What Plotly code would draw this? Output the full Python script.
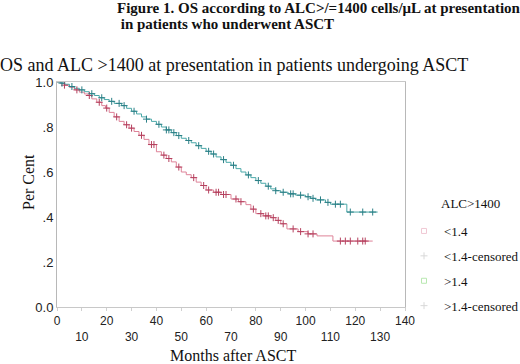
import numpy as np
import plotly.graph_objects as go

# Upper curve (ALC >1.4) Kaplan-Meier steps
hi_t = [0, 1.5, 3, 5, 7, 9, 11, 13, 15, 17, 19, 21, 23, 26, 28, 30, 32, 34, 36, 38, 40, 42, 44, 46,
        48, 50, 52, 54, 56, 58, 60, 62, 64, 66, 68, 70, 72, 74, 76, 78, 80, 82, 84, 86, 88, 90,
        93, 96, 100, 102, 104, 108, 110, 116.6, 129]
hi_s = [1.0, 0.995, 0.99, 0.98, 0.972, 0.965, 0.957, 0.948, 0.94, 0.93, 0.922, 0.914, 0.905, 0.895,
        0.883, 0.87, 0.858, 0.845, 0.835, 0.825, 0.812, 0.80, 0.787, 0.775, 0.762, 0.75, 0.74,
        0.73, 0.717, 0.705, 0.692, 0.68, 0.667, 0.655, 0.643, 0.63, 0.615, 0.60, 0.587, 0.575,
        0.562, 0.55, 0.537, 0.525, 0.517, 0.51, 0.503, 0.497, 0.49, 0.483, 0.476, 0.465, 0.457,
        0.422, 0.422]
hi_cens = [2, 6, 10, 14, 18, 22, 25, 27, 31, 36, 41, 44, 45, 47, 49, 53, 57, 61, 63, 67, 71, 77,
           81, 85, 88, 91, 94, 95, 98, 101, 103, 106, 109, 112, 114, 118, 123, 127]

# Lower curve (ALC <1.4) Kaplan-Meier steps
lo_t = [0, 1.5, 3, 5, 7, 9, 11, 12.5, 14, 16, 18, 19.5, 21, 23, 25, 27, 29, 31, 33, 35, 37, 40, 42,
        44, 46, 48, 50, 52, 54, 56, 58, 60, 63, 66, 70, 73, 76, 78, 80, 83, 86, 88, 90, 92.5,
        97, 101, 104.6, 111, 127]
lo_s = [1.0, 0.993, 0.986, 0.976, 0.965, 0.955, 0.947, 0.94, 0.925, 0.91, 0.895, 0.884, 0.865,
        0.845, 0.825, 0.81, 0.795, 0.78, 0.763, 0.745, 0.722, 0.69, 0.675, 0.66, 0.645, 0.622,
        0.60, 0.588, 0.575, 0.555, 0.54, 0.52, 0.51, 0.50, 0.48, 0.468, 0.455, 0.435, 0.415,
        0.405, 0.397, 0.385, 0.37, 0.347, 0.335, 0.325, 0.316, 0.293, 0.293]
lo_cens = [3, 8, 13, 17, 20, 24, 28, 30, 34, 38, 39, 43, 45, 49, 55, 59, 61, 64, 65, 67, 68, 72,
           74, 79, 82, 84, 85, 87, 89, 91, 95, 98, 101, 103, 114, 116, 118, 121, 123, 124]

x_ticks = [0, 10, 20, 30, 40, 50, 60, 70, 80, 90, 100, 110, 120, 130, 140]
x_ticktext = ["0", "<br>10", "20", "<br>30", "40", "<br>50", "60", "<br>70", "80", "<br>90",
              "100", "<br>110", "120", "<br>130", "140"]
y_ticks = [0.0, 0.2, 0.4, 0.6, 0.8, 1.0]
y_ticktext = ["0.0", ".2", ".4", ".6", ".8", "1.0"]

legend_title = "ALC>1400"
legend_names = ["<1.4", "<1.4-censored", ">1.4", ">1.4-censored"]

TEAL = "#4aa8a8"
TEAL_D = "#2b7f86"
PINK = "#de8298"
PINK_D = "#b5405e"


def step_lookup(times, surv, t):
    idx = np.searchsorted(np.array(times), np.array(t), side="right") - 1
    return list(np.array(surv)[idx])


fig = go.Figure()

fig.add_trace(go.Scatter(x=lo_t, y=lo_s, mode="lines", line=dict(color=PINK, width=1, shape="hv"),
                         showlegend=False, hoverinfo="skip"))
fig.add_trace(go.Scatter(x=hi_t, y=hi_s, mode="lines", line=dict(color=TEAL, width=1, shape="hv"),
                         showlegend=False, hoverinfo="skip"))
for cens, tt, ss, col in [(lo_cens, lo_t, lo_s, PINK_D), (hi_cens, hi_t, hi_s, TEAL_D)]:
    yy = step_lookup(tt, ss, cens)
    for sym in ["line-ns", "line-ew"]:
        fig.add_trace(go.Scatter(x=cens, y=yy, mode="markers",
                                 marker=dict(symbol=sym, size=5, line=dict(color=col, width=1)),
                                 showlegend=False, hoverinfo="skip"))

# legend entries
leg_markers = [
    dict(symbol="square-open", size=5, color="#f0c8d4", line=dict(color="#f0c8d4", width=1)),
    dict(symbol="cross-thin-open", size=5, color="#d8d8d8", line=dict(color="#d8d8d8", width=1)),
    dict(symbol="square-open", size=5, color="#b8e8b0", line=dict(color="#b8e8b0", width=1)),
    dict(symbol="cross-thin-open", size=5, color="#d8d8d8", line=dict(color="#d8d8d8", width=1)),
]
for name, mk in zip(legend_names, leg_markers):
    fig.add_trace(go.Scatter(x=[None], y=[None], mode="markers", name=name, marker=mk,
                             legendgroup=name))

serif = "Liberation Serif, Times New Roman, serif"
sans = "Liberation Sans, Arial, sans-serif"

W, H = 520, 364
pl, pr, pt, pb = 57, 115, 82, 57
pw, ph = W - pl - pr, H - pt - pb


def px(x):
    return (x - pl) / pw


def py(y):
    return (H - pb - y) / ph


fig.update_layout(
    width=W, height=H,
    margin=dict(l=pl, r=pr, t=pt, b=pb, autoexpand=False),
    paper_bgcolor="white", plot_bgcolor="white",
    showlegend=True,
    legend=dict(
        xref="container", yref="container",
        x=404 / W, y=1 - 216 / H, xanchor="left", yanchor="top",
        font=dict(family=serif, size=13, color="#111"),
        tracegroupgap=5, itemwidth=30, bgcolor="rgba(0,0,0,0)",
    ),
    xaxis=dict(
        range=[0, 140], tickvals=x_ticks, ticktext=x_ticktext, tickangle=0,
        showline=True, linecolor="#c8c8c8", linewidth=1, mirror=True,
        ticks="outside", ticklen=3, tickcolor="#d0d0d0", showgrid=False, zeroline=False,
        tickfont=dict(family=sans, size=12, color="#222"),
    ),
    yaxis=dict(
        range=[0, 1.0], tickvals=y_ticks, ticktext=y_ticktext,
        showline=True, linecolor="#b8b8b8", linewidth=1, mirror=True,
        ticks="", showgrid=False, zeroline=False,
        tickfont=dict(family=sans, size=13, color="#222"),
    ),
)

fig.add_annotation(text="<b>Figure 1. OS according to ALC>/=1400 cells/\u03bcL at presentation</b>",
                   x=px(115), y=py(-2), xref="paper", yref="paper", xanchor="left", yanchor="top",
                   showarrow=False, font=dict(family=serif, size=15, color="#111"))
fig.add_annotation(text="<b> in patients who underwent ASCT</b>",
                   x=px(115), y=py(14), xref="paper", yref="paper", xanchor="left", yanchor="top",
                   showarrow=False, font=dict(family=serif, size=15, color="#111"))
fig.add_annotation(text="OS and ALC >1400 at presentation in patients undergoing ASCT",
                   x=px(-2), y=py(53), xref="paper", yref="paper", xanchor="left", yanchor="top",
                   showarrow=False, font=dict(family=serif, size=18, color="#111"))
fig.add_annotation(text="Months after ASCT",
                   x=px(233), y=py(366), xref="paper", yref="paper", xanchor="center", yanchor="bottom",
                   showarrow=False, font=dict(family=serif, size=16, color="#111"))
fig.add_annotation(text="Per Cent", textangle=-90,
                   x=px(28), y=py(182), xref="paper", yref="paper", xanchor="center", yanchor="middle",
                   showarrow=False, font=dict(family=serif, size=16, color="#111"))
fig.add_annotation(text=legend_title,
                   x=px(439), y=py(203), xref="paper", yref="paper", xanchor="left", yanchor="middle",
                   showarrow=False, font=dict(family=serif, size=13, color="#111"))

fig.write_html("out.html", config={"displayModeBar": False},
               post_script="document.body.style.margin='0px';")
